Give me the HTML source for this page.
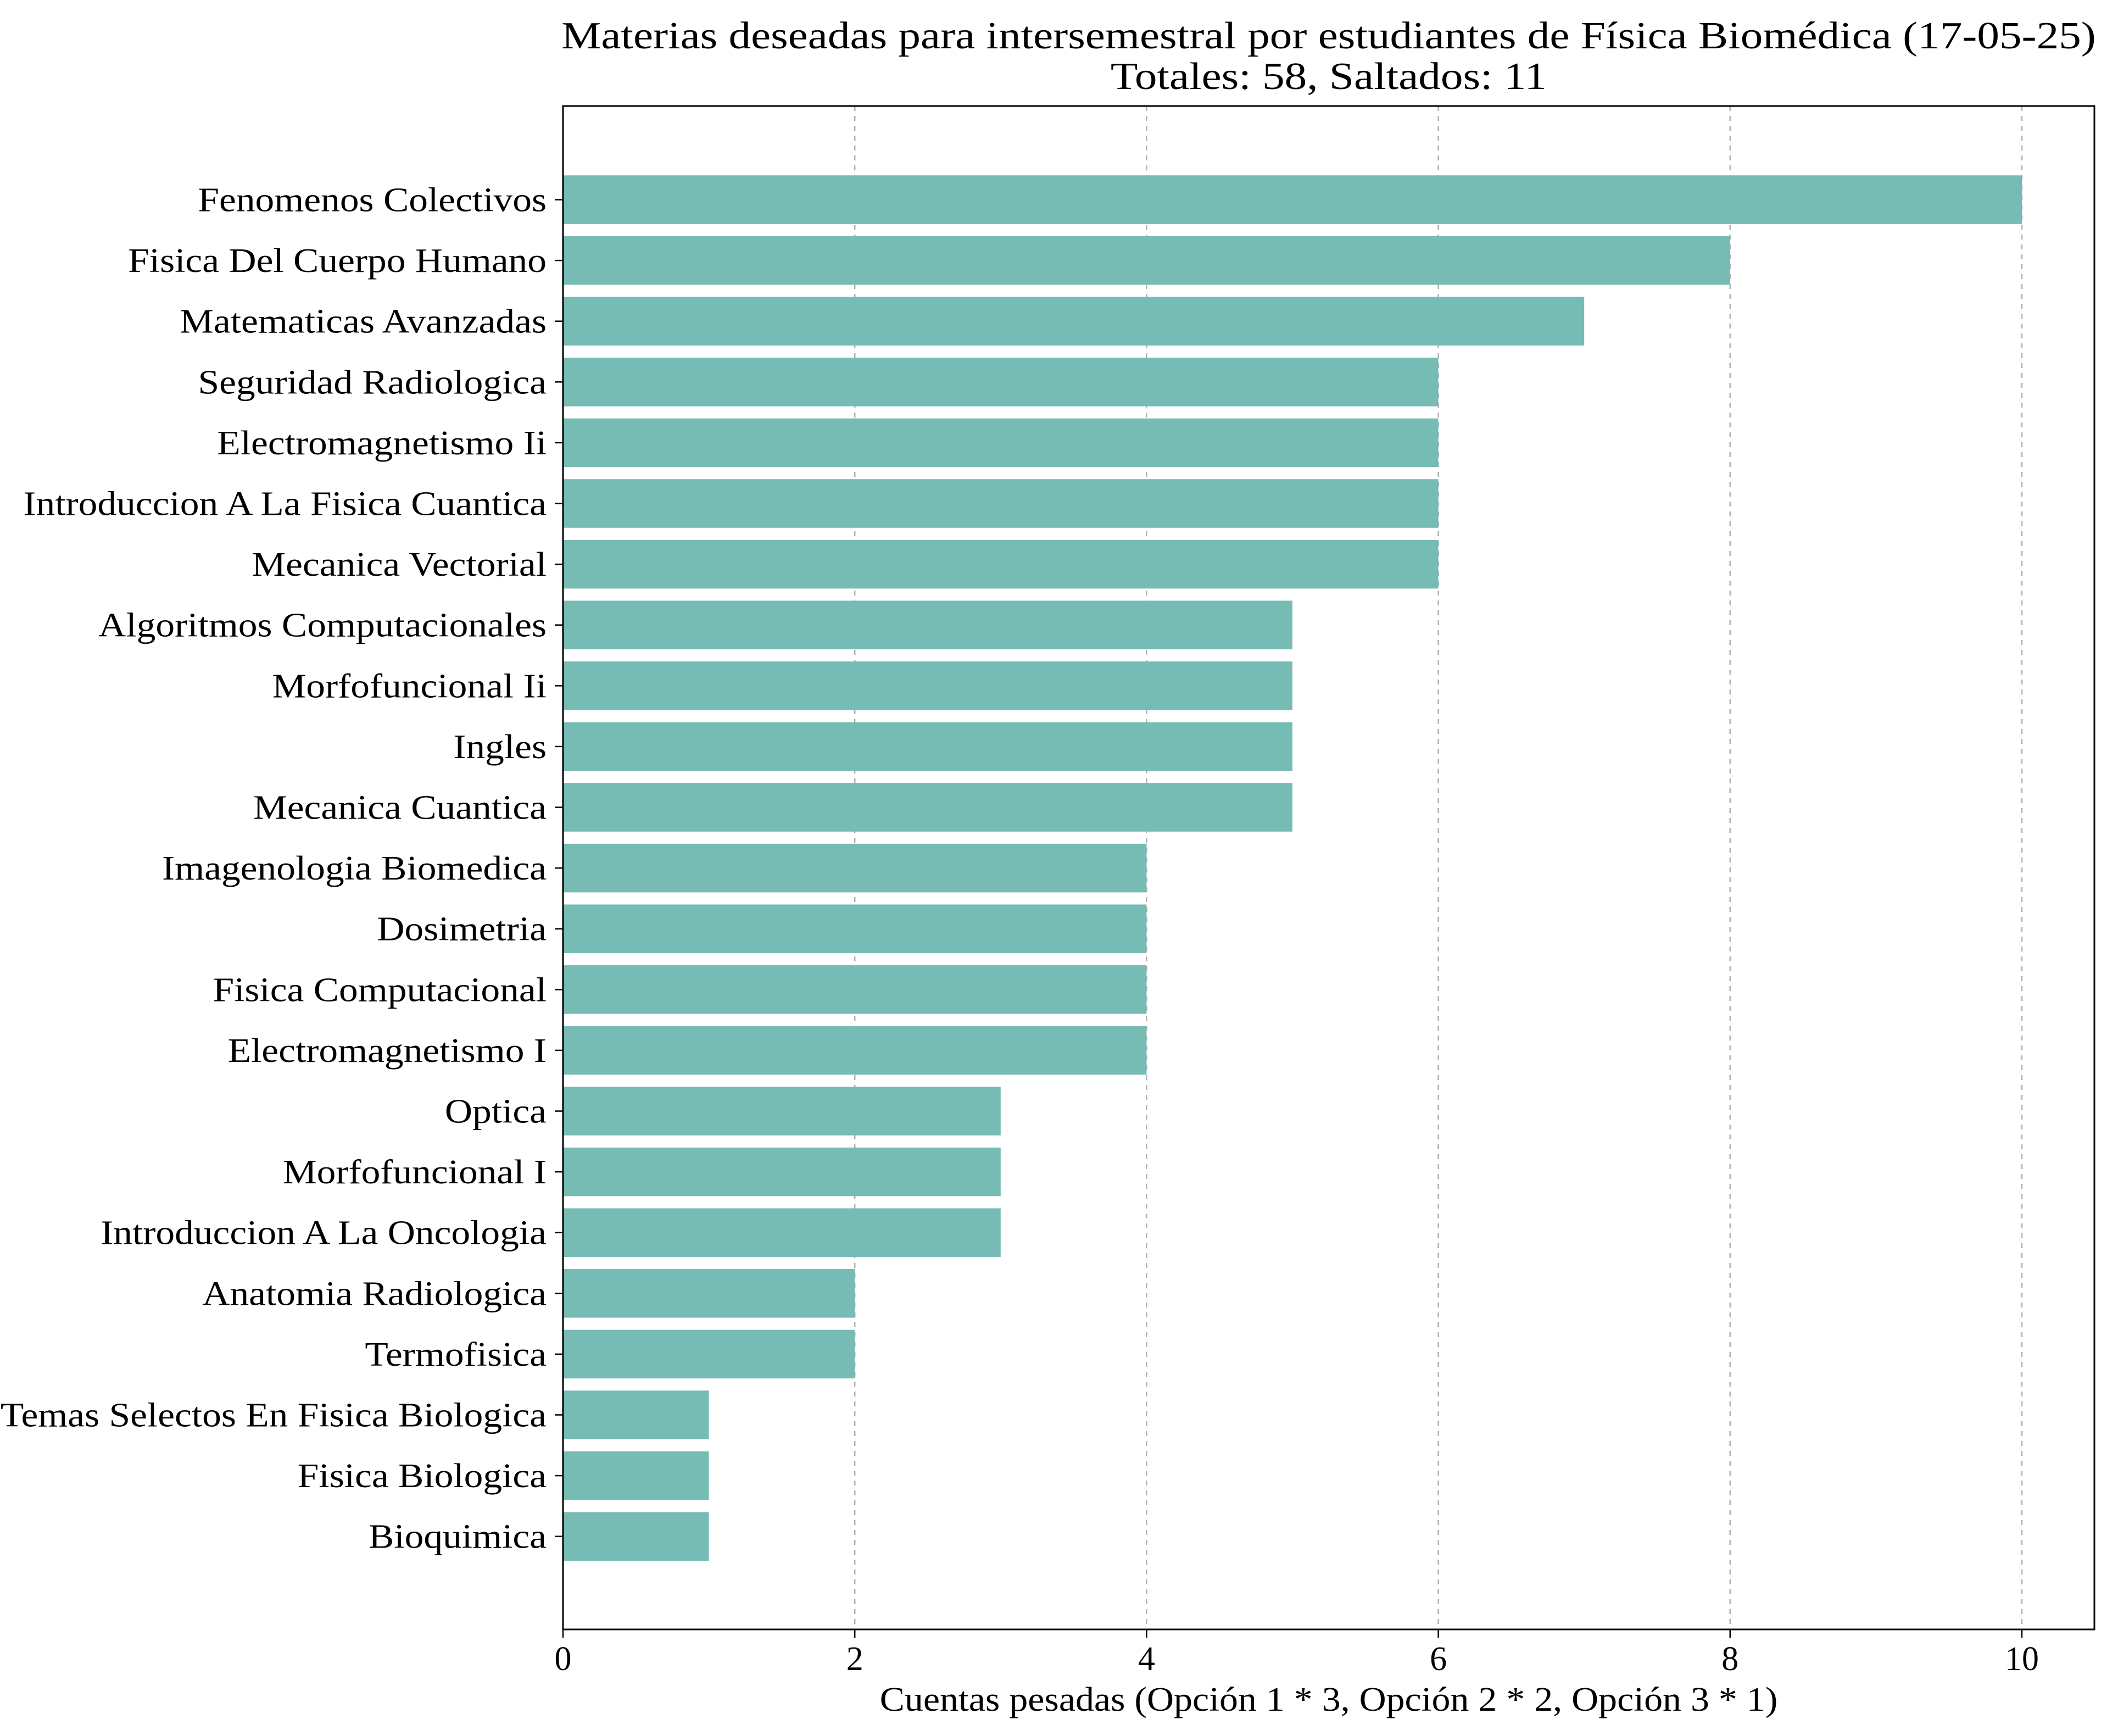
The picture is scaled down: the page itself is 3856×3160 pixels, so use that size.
<!DOCTYPE html>
<html><head><meta charset="utf-8"><style>
html,body{margin:0;padding:0;background:#fff;}
svg{display:block;font-family:"Liberation Serif",serif;}
</style></head><body>
<svg id="chart" width="3856" height="3160" viewBox="0 0 3856 3160" xmlns="http://www.w3.org/2000/svg">
<rect width="3856" height="3160" fill="#fff"/>
<text id="title1" x="2419" y="88" font-size="70" text-anchor="middle">Materias deseadas para intersemestral por estudiantes de Física Biomédica (17-05-25)</text>
<text id="title2" x="2419" y="162" font-size="70" text-anchor="middle">Totales: 58, Saltados: 11</text>
<g id="grid"></g>
<g id="bars"></g>
<g id="yaxis"></g>
<g id="xaxis"></g>
<rect x="1025" y="193" width="2788" height="2773" fill="none" stroke="#000" stroke-width="3"/>
<text id="xtitle" x="2419" y="3114" font-size="62" text-anchor="middle">Cuentas pesadas (Opción 1 * 3, Opción 2 * 2, Opción 3 * 1)</text>
</svg>
<script>
const categories = ["Fenomenos Colectivos","Fisica Del Cuerpo Humano","Matematicas Avanzadas","Seguridad Radiologica","Electromagnetismo Ii","Introduccion A La Fisica Cuantica","Mecanica Vectorial","Algoritmos Computacionales","Morfofuncional Ii","Ingles","Mecanica Cuantica","Imagenologia Biomedica","Dosimetria","Fisica Computacional","Electromagnetismo I","Optica","Morfofuncional I","Introduccion A La Oncologia","Anatomia Radiologica","Termofisica","Temas Selectos En Fisica Biologica","Fisica Biologica","Bioquimica"];
const values = [10,8,7,6,6,6,6,5,5,5,5,4,4,4,4,3,3,3,2,2,1,1,1];
const xTicks = [0,2,4,6,8,10];
const xTickLabels = ["0","2","4","6","8","10"];

const NS = "http://www.w3.org/2000/svg";
const x0 = 1025, unit = 265.6, top0 = 363.5, pitch = 110.6, barH = 88.5, axisBottom = 2966, axisTop = 193;
function xs(v){ return x0 + v*unit; }
function ys(i){ return top0 + i*pitch; }
function mk(tag, attrs, parent){ const e = document.createElementNS(NS, tag); for (const k in attrs) e.setAttribute(k, attrs[k]); parent.appendChild(e); return e; }
function widen(el, f){ const l = el.getComputedTextLength(); el.setAttribute('textLength', (l*f).toFixed(1)); el.setAttribute('lengthAdjust', 'spacingAndGlyphs'); }

const grid = document.getElementById('grid');
const bars = document.getElementById('bars');
const yaxis = document.getElementById('yaxis');
const xaxis = document.getElementById('xaxis');

xTicks.forEach((t, k) => {
  if (t > 0) {
    const g = mk('line', {x1: xs(t), x2: xs(t), y1: axisTop, y2: axisBottom, stroke: '#b0b0b0', 'stroke-width': 2.5, 'stroke-dasharray': '9,9'}, grid);
    
    
  }
  const tk = mk('line', {x1: xs(t), x2: xs(t), y1: axisBottom, y2: axisBottom + 15, stroke: '#000', 'stroke-width': 2.5}, xaxis);
  
  
  const lb = mk('text', {x: xs(t), y: axisBottom + 74, 'font-size': 62, 'text-anchor': 'middle'}, xaxis);
  lb.textContent = xTickLabels[k];
  
  
});

categories.forEach((c, i) => {
  const cy = ys(i);
  const r = mk('rect', {x: xs(0), y: cy - barH/2, width: xs(values[i]) - xs(0), height: barH, fill: '#76bbb4'}, bars);
  
  
  const tk = mk('line', {x1: x0 - 15, x2: x0, y1: cy, y2: cy, stroke: '#000', 'stroke-width': 2.5}, yaxis);
  
  
  const lb = mk('text', {x: x0 - 30, y: cy + 21, 'font-size': 62, 'text-anchor': 'end'}, yaxis);
  lb.textContent = c;
  
  
  widen(lb, 1.12);
});
widen(document.getElementById('title1'), 1.16);
widen(document.getElementById('title2'), 1.16);
widen(document.getElementById('xtitle'), 1.095);
</script>
</body></html>
